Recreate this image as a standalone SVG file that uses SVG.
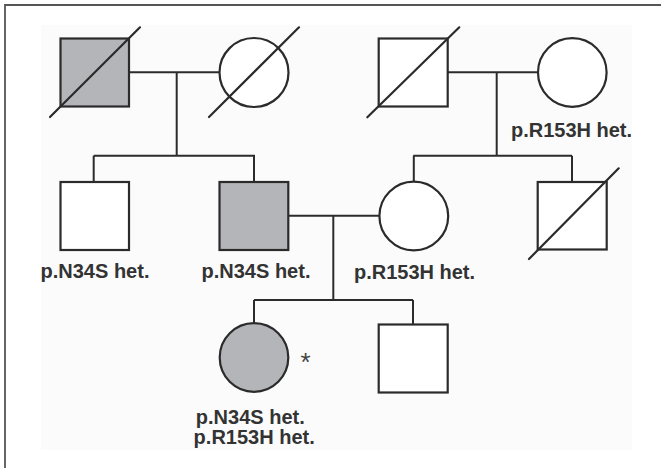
<svg xmlns="http://www.w3.org/2000/svg" width="661" height="468" viewBox="0 0 661 468">
  <style>
    .sym { stroke: #2b2b2b; stroke-width: 2.2; fill: #ffffff; }
    .aff { fill: #b4b5b8; }
    .dec { stroke: #2b2b2b; stroke-width: 2.2; fill: none; stroke-linecap: round; }
    .lnk { stroke: #2b2b2b; stroke-width: 2; fill: none; }
    .lbl { font-family: "Liberation Sans", Arial, sans-serif; font-weight: bold; font-size: 20px; fill: #333333; text-anchor: middle; }
    .star { font-family: "Liberation Sans", Arial, sans-serif; font-size: 26px; fill: #444444; text-anchor: middle; }
  </style>

  <!-- page and frame -->
  <rect x="0" y="0" width="661" height="468" fill="#ffffff"/>
  <rect x="41" y="25" width="591" height="425" fill="#fbfbfb"/>
  <path d="M5 468 V5 H661" stroke="#555555" stroke-width="1.8" fill="none"/>

  <!-- connectors -->
  <g id="connectors">
    <!-- generation I, left couple -->
    <line class="lnk" x1="129" y1="72.3" x2="219.5" y2="72.3"/>
    <line class="lnk" x1="176.7" y1="72.3" x2="176.7" y2="155.7"/>
    <line class="lnk" x1="93.7" y1="155.7" x2="255" y2="155.7"/>
    <line class="lnk" x1="93.7" y1="155.7" x2="93.7" y2="182"/>
    <line class="lnk" x1="254" y1="155.7" x2="254" y2="182"/>
    <!-- generation I, right couple -->
    <line class="lnk" x1="448" y1="72.3" x2="538" y2="72.3"/>
    <line class="lnk" x1="496.7" y1="72.3" x2="496.7" y2="155.7"/>
    <line class="lnk" x1="413.3" y1="155.7" x2="572" y2="155.7"/>
    <line class="lnk" x1="413.8" y1="155.7" x2="413.8" y2="182"/>
    <line class="lnk" x1="572" y1="155.7" x2="572" y2="182"/>
    <!-- generation II couple -->
    <line class="lnk" x1="288.5" y1="215.7" x2="379.3" y2="215.7"/>
    <line class="lnk" x1="333.3" y1="215.7" x2="333.3" y2="300"/>
    <line class="lnk" x1="254" y1="300" x2="413" y2="300"/>
    <line class="lnk" x1="254" y1="300" x2="254" y2="323.5"/>
    <line class="lnk" x1="413" y1="300" x2="413" y2="324.5"/>
  </g>

  <!-- generation I -->
  <g id="paternal-grandfather">
    <rect class="sym aff" x="60.5" y="38.5" width="68.5" height="68"/>
    <line class="dec" x1="50" y1="117" x2="140" y2="27.3"/>
  </g>
  <g id="paternal-grandmother">
    <circle class="sym" cx="254" cy="72.5" r="34.5"/>
    <line class="dec" x1="209" y1="117" x2="299" y2="27.3"/>
  </g>
  <g id="maternal-grandfather">
    <rect class="sym" x="378.7" y="38.5" width="69" height="68"/>
    <line class="dec" x1="367.3" y1="117.3" x2="459.3" y2="27.3"/>
  </g>
  <g id="maternal-grandmother">
    <circle class="sym" cx="572.3" cy="72.5" r="34.3"/>
    <text class="lbl" x="571.5" y="136.7">p.R153H het.</text>
  </g>

  <!-- generation II -->
  <g id="uncle-paternal">
    <rect class="sym" x="60.5" y="182" width="68.5" height="68"/>
    <text class="lbl" x="95" y="277.7">p.N34S het.</text>
  </g>
  <g id="father">
    <rect class="sym aff" x="219.5" y="182" width="68.8" height="68"/>
    <text class="lbl" x="256" y="277.7">p.N34S het.</text>
  </g>
  <g id="mother">
    <circle class="sym" cx="413.8" cy="216" r="34.4"/>
    <text class="lbl" x="414.5" y="279">p.R153H het.</text>
  </g>
  <g id="uncle-maternal">
    <rect class="sym" x="537.7" y="182" width="69" height="67.5"/>
    <line class="dec" x1="529" y1="259" x2="618.7" y2="168.3"/>
  </g>

  <!-- generation III -->
  <g id="proband">
    <circle class="sym aff" cx="254" cy="357.5" r="34.3"/>
    <text class="star" x="305.5" y="371">*</text>
    <text class="lbl" x="250.3" y="424">p.N34S het.</text>
    <text class="lbl" x="254.2" y="444">p.R153H het.</text>
  </g>
  <g id="brother">
    <rect class="sym" x="378.7" y="324.5" width="69" height="68"/>
  </g>
</svg>
